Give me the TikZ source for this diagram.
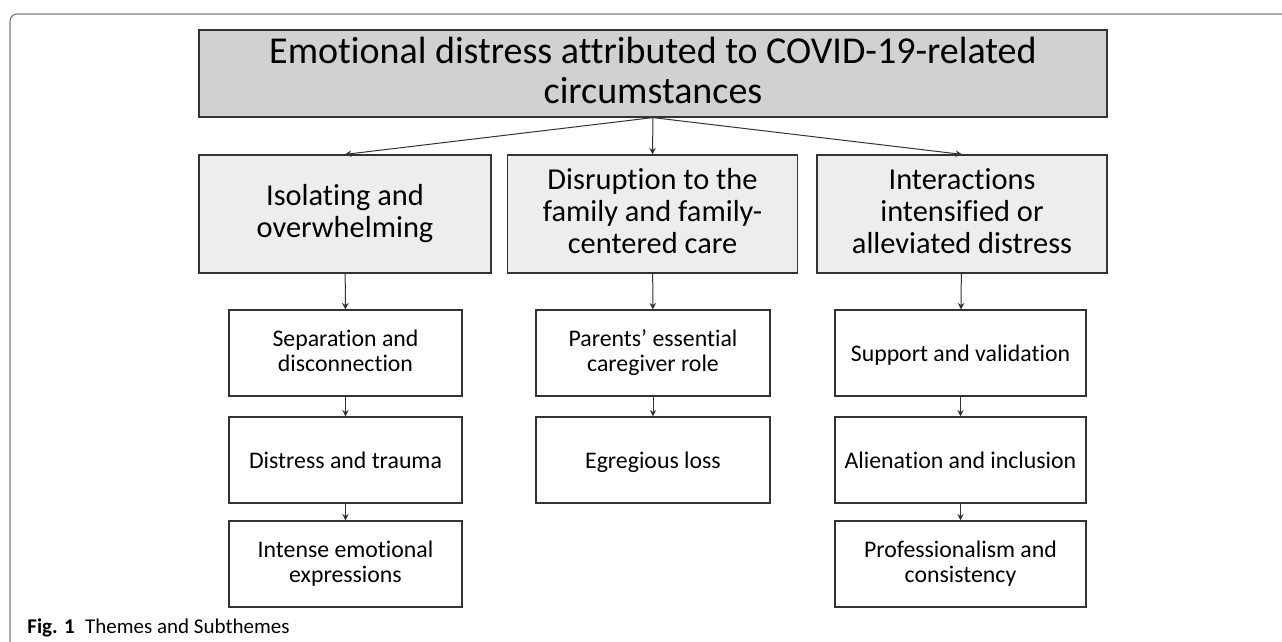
\documentclass[tikz,border=0pt]{standalone}
\usepackage{fontspec}
\setmainfont{Carlito}[Ligatures=NoCommon]
\usetikzlibrary{arrows.meta}
\newcommand\hiStrut{\rule{0pt}{0.82\baselineskip}}
\newcommand\loStrut{\rule[-0.18\baselineskip]{0pt}{0pt}}

\begin{document}
\begin{tikzpicture}[x=0.5pt,y=-0.5pt,
  box/.style={draw=black!80,line width=0.6pt,rectangle,align=center,inner sep=2pt,
    execute at begin node=\hiStrut,execute at end node=\loStrut},
  main/.style={box,fill=gray!36,minimum width=454pt,minimum height=43.5pt,font=\fontsize{19}{20}\selectfont},
  theme/.style={box,fill=gray!14,minimum width=145pt,minimum height=59pt,font=\fontsize{15.2}{16}\selectfont},
  sub/.style={box,fill=white,minimum height=43pt,font=\fontsize{11.9}{12.5}\selectfont},
  arr/.style={draw=black!80,line width=0.5pt,-{Stealth[length=3.2pt,width=3.2pt]}}]
  \useasboundingbox (0,0) rectangle (1282,642);

  % rama
  \draw[gray,line width=0.6pt,rounded corners=3.5pt] (10,642) -- (10,14) -- (1282,14);

  % cutia principală
  \node[main] (top) at (653,73.5) {Emotional distress attributed to COVID-19-related\\circumstances};

  % teme
  \node[theme,minimum width=146pt] (iso) at (345,214) {Isolating and\\overwhelming};
  \node[theme] (fam) at (652.5,214) {Disruption to the\\family and family-\\centered care};
  \node[theme] (int) at (962,214) {Interactions\\intensified or\\alleviated distress};

  % subteme
  \node[sub,minimum width=116.5pt] (sep) at (345.5,353) {Separation and\\disconnection};
  \node[sub,minimum width=116.5pt] (dis) at (345.5,460) {Distress and trauma};
  \node[sub,minimum width=116.5pt] (exp) at (345.5,564) {Intense emotional\\expressions};
  \node[sub,minimum width=117pt] (par) at (653,353) {Parents’ essential\\caregiver role};
  \node[sub,minimum width=117pt] (los) at (653,460) {Egregious loss};
  \node[sub,minimum width=125.5pt] (sup) at (960.5,353) {Support and validation};
  \node[sub,minimum width=125.5pt] (ali) at (960.5,460) {Alienation and inclusion};
  \node[sub,minimum width=125.5pt] (pro) at (960.5,564) {Professionalism and\\consistency};

  % săgeți
  \draw[arr] (top.south) -- (iso.north);
  \draw[arr] (top.south) -- (fam.north);
  \draw[arr] (top.south) -- (int.north);
  \draw[arr] (iso) -- (sep);
  \draw[arr] (sep) -- (dis);
  \draw[arr] (dis) -- (exp);
  \draw[arr] (fam) -- (par);
  \draw[arr] (par) -- (los);
  \draw[arr] (int) -- (sup);
  \draw[arr] (sup) -- (ali);
  \draw[arr] (ali) -- (pro);

  % legenda
  \node[anchor=base west,inner sep=0pt,font=\fontsize{10.5}{12}\selectfont] (cap) at (27,633) {\textbf{Fig. 1}\enspace Themes and Subthemes};
\end{tikzpicture}
\end{document}
